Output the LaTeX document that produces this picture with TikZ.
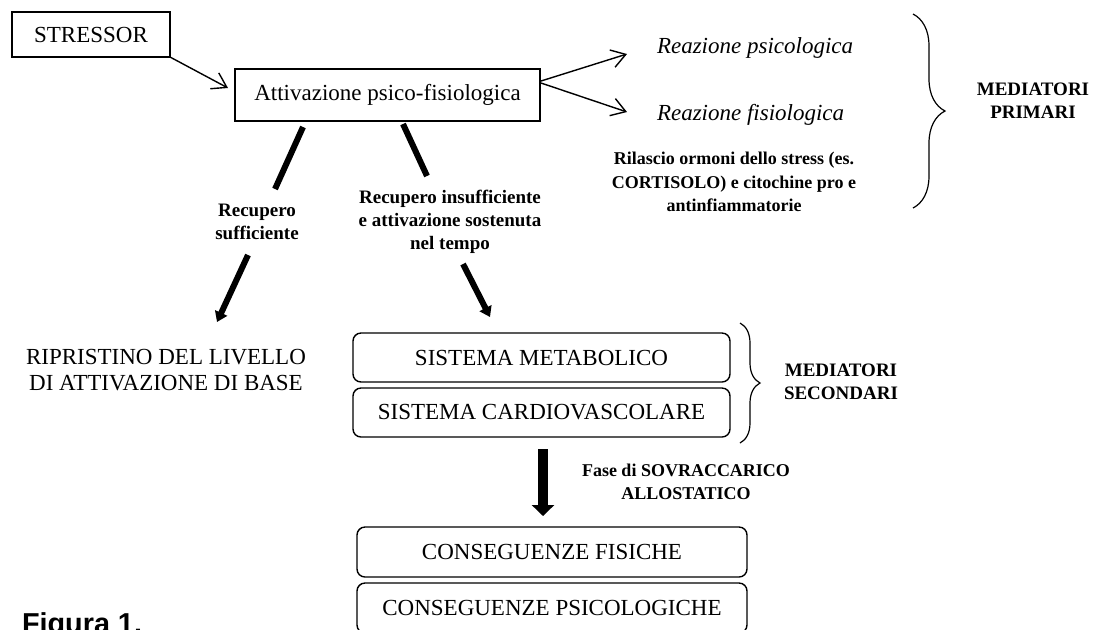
\documentclass[tikz,border=0pt]{standalone}
\usepackage{fontspec}
\setmainfont{Liberation Serif}
\newfontfamily\figfont{Liberation Sans}
\usetikzlibrary{arrows.meta,decorations.pathreplacing}
\begin{document}
\begin{tikzpicture}[x=0.5pt,y=-0.5pt,
  every node/.style={inner sep=0pt, outer sep=0pt},
  maintxt/.style={font=\fontsize{11.5}{13}\selectfont},
  boldtxt/.style={font=\fontsize{9}{11.6}\selectfont\bfseries, align=center},
  boldbig/.style={font=\fontsize{9.5}{11.6}\selectfont\bfseries, align=center},
  plainbox/.style={draw, line width=0.7pt, maintxt},
  roundbox/.style={draw, line width=0.7pt, rounded corners=4pt, maintxt,
    minimum width=188.5pt, minimum height=24.5pt},
  thinarrow/.style={line width=0.7pt, -{Straight Barb[length=7pt,width=9pt,line width=0.7pt]}},
  thickline/.style={line width=3pt},
  thickarrow/.style={line width=3pt, -{Triangle[length=5pt,width=6.5pt]}},
  bigarrow/.style={line width=5pt, -{Triangle[length=5.5pt,width=11pt]}},
  bracedeco/.style={line width=0.6pt, decorate, decoration={brace, amplitude=#1, aspect=0.5}}
]
\useasboundingbox (0,0) rectangle (1097,629);
\clip (0,0) rectangle (1097,629);

% boxes
\node[plainbox, minimum width=79pt, minimum height=22.5pt] (stressor) at (91,34.5) {STRESSOR};
\node[plainbox, minimum width=152.5pt, minimum height=26pt] (attiv) at (387.5,95) {Attivazione psico-fisiologica};
\node[roundbox] (sismet) at (541.5,357.5) {SISTEMA METABOLICO};
\node[roundbox] (siscar) at (541.5,412.5) {SISTEMA CARDIOVASCOLARE};
\node[roundbox, minimum width=195pt, minimum height=25pt] (consfis) at (552,552) {CONSEGUENZE FISICHE};
\node[roundbox, minimum width=195pt, minimum height=25pt] (conspsi) at (552,608) {CONSEGUENZE PSICOLOGICHE};

% texts
\node[maintxt, font=\fontsize{11.5}{13}\selectfont\itshape, anchor=base west] (reazpsi) at (657,53) {Reazione psicologica};
\node[maintxt, font=\fontsize{11.5}{13}\selectfont\itshape, anchor=base west] (reazfis) at (657,120) {Reazione fisiologica};
\node[boldtxt] (rilascio) at (734,182) {Rilascio ormoni dello stress (es.\\CORTISOLO) e citochine pro e\\antinfiammatorie};
\node[boldbig] (recsuff) at (257,222) {Recupero\\sufficiente};
\node[boldbig] (recins) at (450,222) {Recupero insufficiente\\e attivazione sostenuta\\nel tempo};
\node[maintxt, align=center, font=\fontsize{11.5}{12.6}\selectfont] (ripr) at (166,370) {RIPRISTINO DEL LIVELLO\\DI ATTIVAZIONE DI BASE};
\node[boldbig] (medprim) at (1033,100.5) {MEDIATORI\\PRIMARI};
\node[boldbig] (medsec) at (841,382) {MEDIATORI\\SECONDARI};
\node[boldtxt] (fase) at (686,482) {Fase di SOVRACCARICO\\ALLOSTATICO};
\node[font=\figfont\fontsize{14.4}{16}\selectfont\bfseries, anchor=base west] (figura) at (22,633) {Figura 1.};

% connector end points
\coordinate (t1) at (228,88);
\coordinate (rs1) at (541,81);
\coordinate (rs2) at (541,83);
\coordinate (rp) at (627,54);
\coordinate (rf) at (627,112);
\coordinate (l1a) at (303,127);
\coordinate (l1b) at (275,189);
\coordinate (l2a) at (248,255);
\coordinate (l2b) at (217,322);
\coordinate (r1a) at (403,124);
\coordinate (r1b) at (427,176);
\coordinate (r2a) at (463,264);
\coordinate (r2b) at (490,317);
\coordinate (ba) at (543,449);
\coordinate (bb) at (543,516);
\coordinate (b1a) at (913,14);
\coordinate (b1b) at (913,208);
\coordinate (b2a) at (740,323);
\coordinate (b2b) at (740,443);

% connectors
\draw[thinarrow] (stressor.south east) -- (t1);
\draw[thinarrow] (rs1) -- (rp);
\draw[thinarrow] (rs2) -- (rf);
\draw[thickline] (l1a) -- (l1b);
\draw[thickarrow] (l2a) -- (l2b);
\draw[thickline] (r1a) -- (r1b);
\draw[thickarrow] (r2a) -- (r2b);
\draw[bigarrow] (ba) -- (bb);

% braces
\draw[bracedeco=16pt] (b1a) -- (b1b);
\draw[bracedeco=10pt] (b2a) -- (b2b);
\end{tikzpicture}
\end{document}
